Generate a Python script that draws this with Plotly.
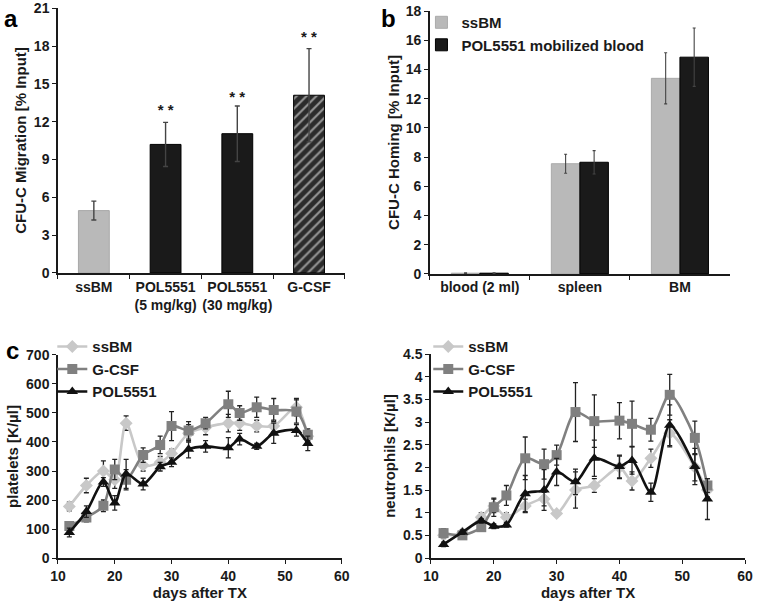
import plotly.graph_objects as go

FONT = "Liberation Sans, Arial, sans-serif"
INK = "#1a1a1a"
LIGHT = "#b9b9b9"
MID = "#808080"

# a: CFU-C migration
mig_groups = ["ssBM", "POL5551<br>(5 mg/kg)", "POL5551<br>(30 mg/kg)", "G-CSF"]
mig_values = [4.95, 10.2, 11.05, 14.1]
mig_errors = [0.75, 1.75, 2.2, 3.7]
mig_stars = ["", "* *", "* *", "* *"]
mig_star_y = [0, 12.8, 13.85, 18.6]

# b: CFU-C homing
hom_sites = ["blood (2 ml)", "spleen", "BM"]
hom_ssbm = [0.05, 7.55, 13.4]
hom_ssbm_err = [0.02, 0.65, 1.75]
hom_pol = [0.05, 7.65, 14.85]
hom_pol_err = [0.02, 0.8, 2.0]

# c: blood counts after transplant
days = [12, 15, 18, 20, 22, 25, 28, 30, 33, 36, 40, 42, 45, 48, 52, 54]
plt_ssbm = [178, 250, 300, 270, 465, 320, 330, 360, 430, 450, 465, 465, 455, 455, 520, 420]
plt_ssbm_err = [15, 25, 35, 30, 25, 20, 20, 15, 30, 25, 30, 25, 20, 20, 30, 20]
plt_gcsf = [110, 140, 180, 305, 270, 355, 390, 455, 440, 465, 530, 500, 520, 510, 505, 425]
plt_gcsf_err = [15, 15, 20, 35, 35, 25, 30, 50, 30, 20, 45, 25, 35, 40, 40, 20]
plt_pol = [88, 160, 262, 190, 290, 255, 315, 330, 375, 385, 380, 410, 385, 430, 440, 395]
plt_pol_err = [15, 20, 15, 25, 50, 20, 15, 15, 30, 20, 35, 20, 10, 35, 20, 25]

neu_ssbm = [0.5, 0.55, 0.9, 1.15, 0.9, 1.15, 1.3, 0.98, 1.5, 1.6, 2.0, 1.7, 2.2, 2.75, 2.0, 1.5]
neu_ssbm_err = [0.05, 0.05, 0.1, 0.15, 0.1, 0.15, 0.15, 0.05, 0.4, 0.15, 0.25, 0.2, 0.2, 0.3, 0.3, 0.15]
neu_gcsf = [0.55, 0.5, 0.68, 1.12, 1.38, 2.2, 2.07, 2.27, 3.22, 3.02, 3.03, 2.96, 2.83, 3.6, 2.65, 1.6]
neu_gcsf_err = [0.1, 0.08, 0.08, 0.2, 0.22, 0.47, 0.33, 0.22, 0.65, 0.58, 0.4, 0.5, 0.25, 0.45, 0.37, 0.15]
neu_pol = [0.3, 0.57, 0.82, 0.7, 0.73, 1.42, 1.5, 1.9, 1.68, 2.2, 2.02, 2.15, 1.45, 2.93, 2.02, 1.3]
neu_pol_err = [0.05, 0.05, 0.05, 0.05, 0.05, 0.4, 0.45, 0.3, 0.28, 0.4, 0.25, 0.3, 0.2, 0.45, 0.4, 0.45]

neu_ticks = [0, 0.5, 1, 1.5, 2, 2.5, 3, 3.5, 4, 4.5]
neu_ticktext = ["0", "0.5", "1", "1.5", "2", "2.5", "3", "3.5", "4", "4.5"]


def err(vals, color=INK, width=2.5, thick=1.4):
    return dict(type="data", array=vals, visible=True, color=color, thickness=thick, width=width)


fig = go.Figure()

# panel a
fig.add_trace(go.Bar(
    x=mig_groups, y=mig_values, width=0.43,
    marker=dict(
        color=[LIGHT, INK, INK, "#2b2b2b"],
        line=dict(color=["#a8a8a8", "#000", "#000", "#000"], width=1),
        pattern=dict(shape=["", "", "", "/"], fgcolor="#9a9a9a", bgcolor="#2b2b2b",
                     size=7, solidity=0.3),
    ),
    error_y=err(mig_errors, color="#444"),
    showlegend=False, xaxis="x", yaxis="y",
))
fig.add_trace(go.Scatter(
    x=mig_groups, y=mig_star_y, text=mig_stars, mode="text",
    textfont=dict(family=FONT, size=15, color=INK, weight="bold"),
    showlegend=False, xaxis="x", yaxis="y", hoverinfo="skip",
))

# panel b
fig.add_trace(go.Bar(
    x=hom_sites, y=hom_ssbm, name="ssBM", width=0.285, offset=-0.285,
    marker=dict(color=LIGHT, line=dict(color="#aaaaaa", width=1)),
    error_y=err(hom_ssbm_err, color="#444", width=1.5, thick=1.1),
    xaxis="x2", yaxis="y2", legend="legend",
))
fig.add_trace(go.Bar(
    x=hom_sites, y=hom_pol, name="POL5551 mobilized blood", width=0.285, offset=0,
    marker=dict(color=INK, line=dict(color="#000", width=1)),
    error_y=err(hom_pol_err, color="#444", width=1.5, thick=1.1),
    xaxis="x2", yaxis="y2", legend="legend",
))

# panel c
series = [
    ("ssBM", "#c8c8c8", "diamond", plt_ssbm, plt_ssbm_err, neu_ssbm, neu_ssbm_err),
    ("G-CSF", MID, "square", plt_gcsf, plt_gcsf_err, neu_gcsf, neu_gcsf_err),
    ("POL5551", "#111111", "triangle-up", plt_pol, plt_pol_err, neu_pol, neu_pol_err),
]
for name, color, symbol, py, pe, ny, ne in series:
    for (yv, ev, xa, ya, lg) in [(py, pe, "x3", "y3", "legend2"), (ny, ne, "x4", "y4", "legend3")]:
        fig.add_trace(go.Scatter(
            x=days, y=yv, name=name, mode="lines+markers",
            line=dict(color=color, width=2.6, shape="spline", smoothing=0.8),
            marker=dict(symbol=symbol, size=10, color=color),
            error_y=err(ev, color="#222", width=2.5, thick=1.3),
            xaxis=xa, yaxis=ya, legend=lg,
        ))

tickfont = dict(family=FONT, size=14, color=INK, weight="bold")
titlefont = dict(family=FONT, size=15, color=INK, weight="bold")
axis = dict(showline=True, linecolor=INK, linewidth=1.5, ticks="outside", ticklen=4,
            tickcolor=INK, tickwidth=1.3, showgrid=False, zeroline=False,
            tickfont=tickfont, automargin=False, fixedrange=True)

fig.update_layout(
    width=758, height=606,
    margin=dict(l=0, r=0, t=0, b=0),
    paper_bgcolor="white", plot_bgcolor="white",
    font=dict(family=FONT, color=INK),
    barmode="overlay",
    xaxis=dict(axis, domain=[0.0765, 0.455], anchor="y", tickson="boundaries",
               type="category", range=[-0.5, 3.5], tickangle=0),
    yaxis=dict(axis, domain=[0.5495, 0.9868], anchor="x", range=[0, 21.02], dtick=3,
               title=dict(text="CFU-C Migration [% Input]", font=titlefont, standoff=4)),
    xaxis2=dict(axis, domain=[0.567, 0.963], anchor="y2", tickson="boundaries",
                type="category", range=[-0.5, 2.5], tickangle=0),
    yaxis2=dict(axis, domain=[0.548, 0.982], anchor="x2", range=[0, 18.02], dtick=2,
                title=dict(text="CFU-C Homing [% Input]", font=titlefont, standoff=2)),
    xaxis3=dict(axis, domain=[0.0765, 0.451], anchor="y3", range=[10, 60], dtick=10,
                title=dict(text="days after TX", font=titlefont, standoff=4)),
    yaxis3=dict(axis, domain=[0.0792, 0.4142], anchor="x3", range=[0, 700], dtick=100,
                title=dict(text="platelets [K/µl]", font=titlefont, standoff=4)),
    xaxis4=dict(axis, domain=[0.5686, 0.983], anchor="y4", range=[10, 60], dtick=10,
                title=dict(text="days after TX", font=titlefont, standoff=4)),
    yaxis4=dict(axis, domain=[0.0792, 0.4158], anchor="x4", range=[0, 4.5],
                tickvals=neu_ticks, ticktext=neu_ticktext,
                title=dict(text="neutrophils [K/µl]", font=titlefont, standoff=4)),
    legend=dict(x=0.556, y=0.99, xanchor="left", yanchor="top", bgcolor="rgba(0,0,0,0)",
                font=titlefont, itemwidth=30, tracegroupgap=0),
    legend2=dict(x=0.069, y=0.455, xanchor="left", yanchor="top", bgcolor="rgba(0,0,0,0)",
                 font=titlefont, itemwidth=30),
    legend3=dict(x=0.565, y=0.455, xanchor="left", yanchor="top", bgcolor="rgba(0,0,0,0)",
                 font=titlefont, itemwidth=30),
)

for letter, lx, ly in [("a", 0.003, 0.995), ("b", 0.5, 0.995), ("c", 0.005, 0.447)]:
    fig.add_annotation(text=letter, x=lx, y=ly, xref="paper", yref="paper",
                       xanchor="left", yanchor="top", showarrow=False,
                       font=dict(family=FONT, size=24, color="#000", weight="bold"))

# page body has a default margin; drop it so the figure fills the window
fig.write_html("out.html", config={"displayModeBar": False},
               post_script="document.body.style.margin='0';")
